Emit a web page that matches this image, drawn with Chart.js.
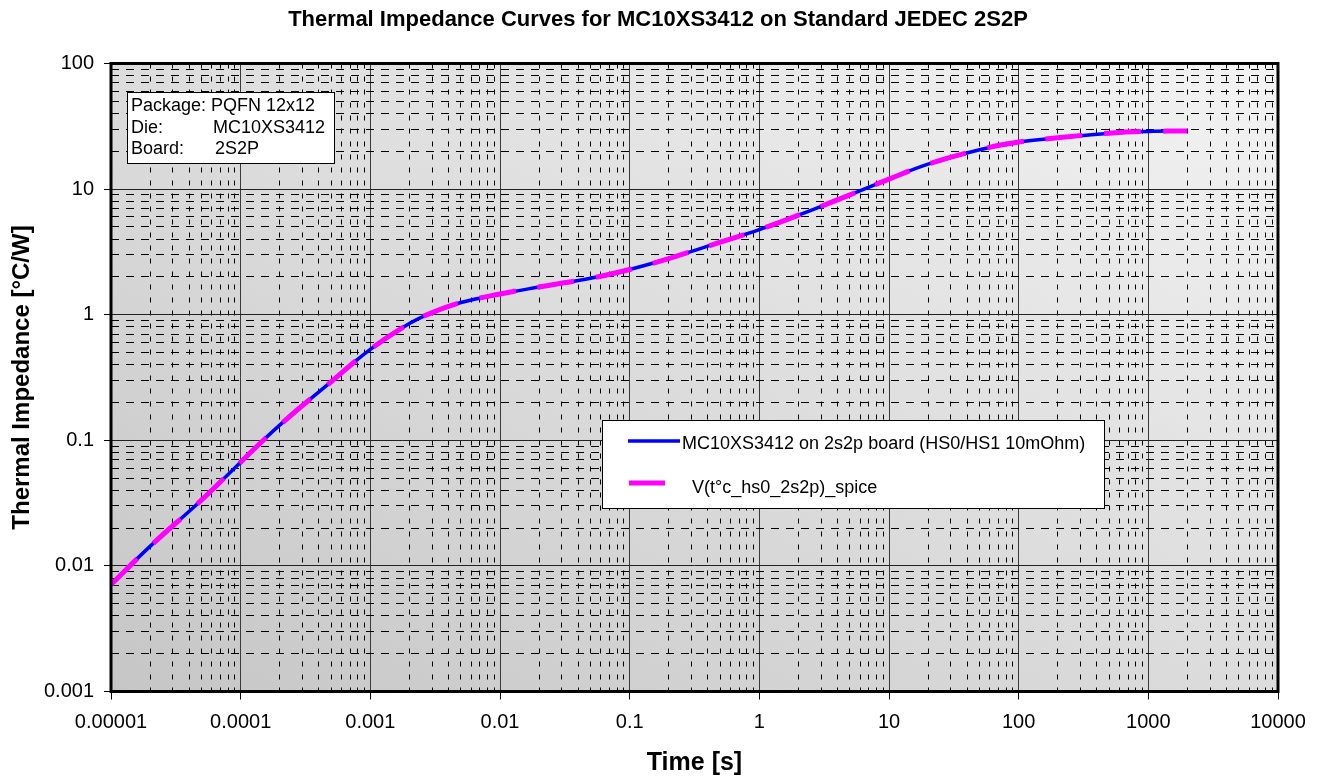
<!DOCTYPE html>
<html>
<head>
<meta charset="utf-8">
<title>Thermal Impedance Curves</title>
<script src="https://cdn.jsdelivr.net/npm/chart.js@4.4.1/dist/chart.umd.min.js"></script>
<style>
  html, body { margin: 0; padding: 0; background: #fff; }
  canvas { display: block; }
</style>
</head>
<body>
<canvas id="zthChart" width="1320" height="781"></canvas>
<script>
// values
const timeValues = [1e-5, 2e-5, 5e-5, 1e-4, 2e-4, 5e-4, 1e-3, 2e-3, 3e-3, 5e-3,
  0.01, 0.02, 0.05, 0.1, 0.2, 0.5, 1, 2, 5, 10, 20, 50, 100, 200, 500, 1000, 2000];
const zthMeasured = [0.0071, 0.0143, 0.0335, 0.067, 0.132, 0.293, 0.53, 0.85, 1.04, 1.25,
  1.46, 1.66, 1.95, 2.29, 2.8, 3.78, 4.76, 6.2, 9.0, 12.0, 15.8, 20.6, 23.7, 25.6, 27.9, 28.8, 29.0];
const zthSpice = [0.0071, 0.0143, 0.0335, 0.067, 0.132, 0.293, 0.53, 0.85, 1.04, 1.25,
  1.46, 1.66, 1.95, 2.29, 2.8, 3.78, 4.76, 6.2, 9.0, 12.0, 15.8, 20.6, 23.7, 25.6, 27.9, 28.8, 29.0];

const xTickLabels = ['0.00001', '0.0001', '0.001', '0.01', '0.1', '1', '10', '100', '1000', '10000'];
const yTickLabels = ['0.001', '0.01', '0.1', '1', '10', '100'];

const chartTitle = 'Thermal Impedance Curves for MC10XS3412 on Standard JEDEC 2S2P';
const infoRows = [['Package: PQFN 12x12', ''], ['Die:', 'MC10XS3412'], ['Board:', '2S2P']];

const FONT = '"Liberation Sans", Arial, sans-serif';

// decades plus 2..9 minor ticks
function logTicks(labels) {
  const out = [];
  labels.forEach((lab, i) => {
    const v = Number(lab);
    out.push({ value: v, major: true, text: lab });
    if (i < labels.length - 1) {
      for (let m = 2; m <= 9; m++) out.push({ value: v * m, major: false, text: '' });
    }
  });
  return out;
}

const isMajor = (c) => c.tick && c.tick.major;

const framePlugin = {
  id: 'frame',
  beforeDraw(chart) {
    const { ctx, chartArea: a } = chart;
    // diagonal grey gradient, darker bottom-left
    const cx = (a.left + a.right) / 2, cy = (a.top + a.bottom) / 2;
    const w = a.right - a.left, h = a.bottom - a.top;
    const len = Math.hypot(w, h);
    const ux = h / len, uy = -w / len;
    const half = Math.abs((-w / 2) * ux + (h / 2) * uy);
    const g = ctx.createLinearGradient(cx - ux * half, cy - uy * half, cx + ux * half, cy + uy * half);
    g.addColorStop(0, '#c6c6c6');
    g.addColorStop(1, '#f3f3f3');
    ctx.save();
    ctx.fillStyle = g;
    ctx.fillRect(a.left, a.top, w, h);
    ctx.restore();
  },
  afterDraw(chart) {
    const { ctx, chartArea: a } = chart;
    ctx.save();
    // title
    ctx.fillStyle = '#000';
    ctx.font = 'bold 22px ' + FONT;
    ctx.textAlign = 'center';
    ctx.textBaseline = 'middle';
    ctx.fillText(chartTitle, chart.width / 2 - 2, 20);

    // plot frame
    ctx.strokeStyle = '#000';
    ctx.lineWidth = 3;
    ctx.strokeRect(a.left, a.top, a.right - a.left, a.bottom - a.top);

    // info box
    ctx.lineWidth = 1;
    ctx.fillStyle = '#fff';
    ctx.fillRect(127.5, 92.5, 207, 71);
    ctx.strokeRect(127.5, 92.5, 207, 71);
    ctx.fillStyle = '#000';
    ctx.font = '18px ' + FONT;
    ctx.textAlign = 'left';
    ctx.textBaseline = 'alphabetic';
    const valX = [0, 213, 215];
    infoRows.forEach((row, i) => {
      const y = 111 + i * 21.5;
      ctx.fillText(row[0], 131, y);
      if (row[1]) ctx.fillText(row[1], valX[i], y);
    });

    // legend box
    ctx.fillStyle = '#fff';
    ctx.fillRect(602.5, 420.5, 502, 88);
    ctx.strokeRect(602.5, 420.5, 502, 88);
    const ds = chart.data.datasets;
    const items = [
      { x1: 628, x2: 680, y: 441, tx: 682, ty: 449 },
      { x1: 629, x2: 665, y: 483, tx: 692, ty: 493 }
    ];
    ds.forEach((d, i) => {
      const it = items[i];
      ctx.strokeStyle = d.borderColor;
      ctx.lineWidth = d.borderWidth;
      ctx.setLineDash([]);
      ctx.beginPath();
      ctx.moveTo(it.x1, it.y);
      ctx.lineTo(it.x2, it.y);
      ctx.stroke();
      ctx.fillStyle = '#000';
      ctx.fillText(d.label, it.tx, it.ty);
    });
    ctx.restore();
  }
};

new Chart(document.getElementById('zthChart'), {
  type: 'line',
  data: {
    datasets: [
      {
        label: 'MC10XS3412 on 2s2p board (HS0/HS1 10mOhm)',
        data: timeValues.map((t, i) => ({ x: t, y: zthMeasured[i] })),
        borderColor: '#0000ff',
        borderWidth: 3.5,
        pointRadius: 0,
        tension: 0.4,
        order: 1
      },
      {
        label: 'V(t°c_hs0_2s2p)_spice',
        data: timeValues.map((t, i) => ({ x: t, y: zthSpice[i] })),
        borderColor: '#ff00ff',
        borderWidth: 5,
        borderDash: [37, 22],
        pointRadius: 0,
        tension: 0.4,
        order: 0
      }
    ]
  },
  options: {
    responsive: false,
    animation: false,
    devicePixelRatio: 1,
    layout: { padding: { top: 63.5, right: 42, bottom: 0, left: 0 } },
    plugins: {
      legend: { display: false },
      title: { display: false },
      tooltip: { enabled: false }
    },
    scales: {
      x: {
        type: 'logarithmic',
        min: 1e-5,
        max: 1e4,
        afterBuildTicks: (s) => { s.ticks = logTicks(xTickLabels); },
        afterFit: (s) => { s.height = 89.5; },
        ticks: {
          autoSkip: false,
          maxRotation: 0,
          padding: 11,
          color: '#000',
          font: { family: FONT, size: 20 },
          callback: (v, i, ticks) => ticks[i].text
        },
        grid: {
          color: (c) => isMajor(c) ? '#3a3a3a' : '#000',
          lineWidth: 1,
          tickLength: 8,
          tickColor: (c) => isMajor(c) ? '#000' : 'rgba(0,0,0,0)'
        },
        border: { display: false, dash: (c) => (c.tick && !c.tick.major) ? [5, 8] : [] },
        title: {
          display: true,
          text: 'Time [s]',
          color: '#000',
          font: { family: FONT, size: 25, weight: 'bold' },
          padding: { top: 0, bottom: 3 }
        }
      },
      y: {
        type: 'logarithmic',
        min: 0.001,
        max: 100,
        afterBuildTicks: (s) => { s.ticks = logTicks(yTickLabels); },
        afterFit: (s) => { s.width = 111; },
        ticks: {
          autoSkip: false,
          padding: 10,
          color: '#000',
          font: { family: FONT, size: 20 },
          callback: (v, i, ticks) => ticks[i].text
        },
        grid: {
          color: (c) => isMajor(c) ? '#222' : '#000',
          lineWidth: 1,
          tickLength: 7,
          tickColor: (c) => isMajor(c) ? '#000' : 'rgba(0,0,0,0)'
        },
        border: { display: false, dash: (c) => (c.tick && !c.tick.major) ? [8, 7] : [] },
        title: {
          display: true,
          text: 'Thermal Impedance [°C/W]',
          color: '#000',
          font: { family: FONT, size: 24, weight: 'bold' },
          padding: { top: 8, bottom: 0 }
        }
      }
    }
  },
  plugins: [framePlugin]
});
</script>
</body>
</html>
